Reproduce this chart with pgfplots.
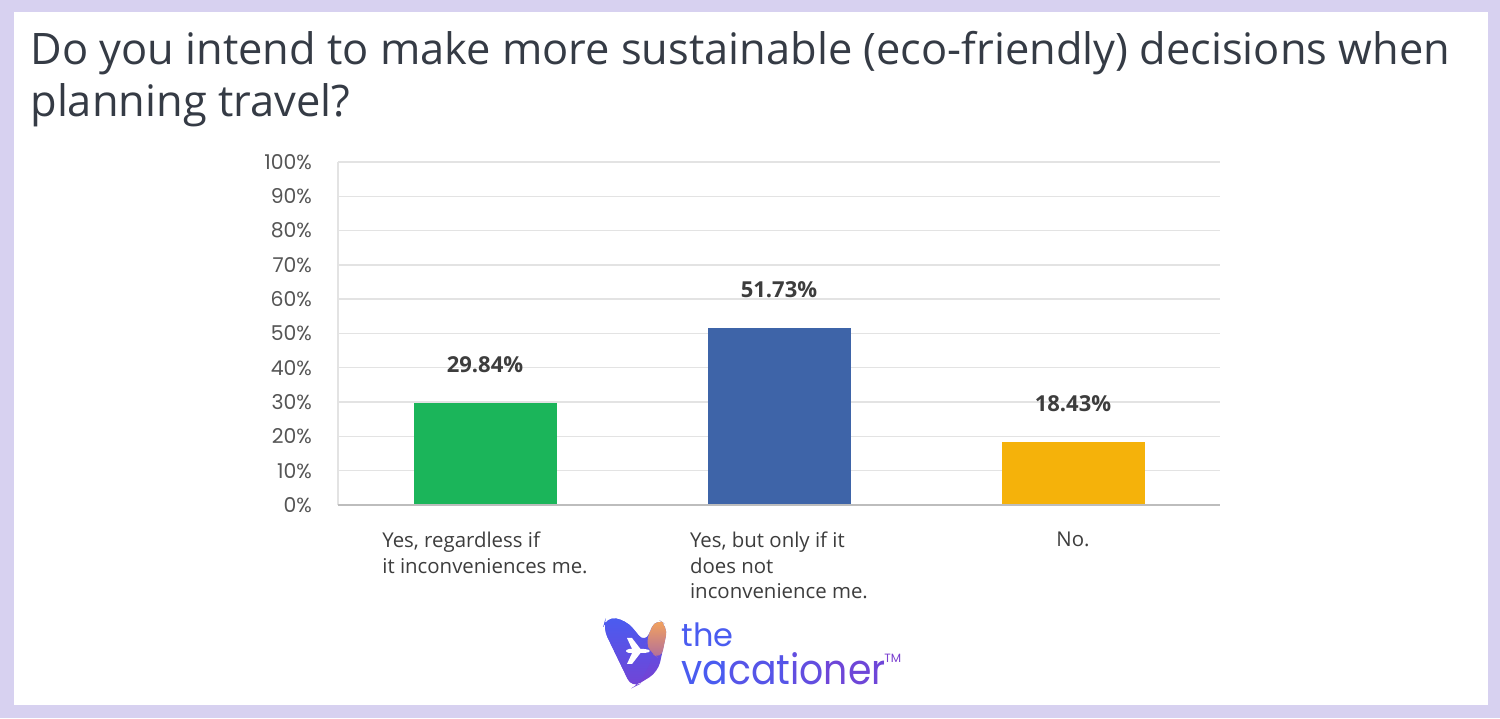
\documentclass[border=0pt]{standalone}
\usepackage{pgfplots}
\pgfplotsset{compat=1.18}
\usepackage{fontspec}
\setmainfont{Open Sans}
\newfontfamily\poppins{Poppins}
\definecolor{frame}{HTML}{D7D1F0}
\definecolor{titlec}{HTML}{353B45}
\definecolor{gridc}{HTML}{E3E3E3}
\definecolor{axisc}{HTML}{BDBDBD}
\definecolor{tickc}{HTML}{555555}
\definecolor{labc}{HTML}{3D3D3D}
\definecolor{barg}{HTML}{1BB55A}
\definecolor{barb}{HTML}{3E64A8}
\definecolor{bary}{HTML}{F5B20A}
\definecolor{logob}{HTML}{4A5CF0}
\definecolor{logop}{HTML}{7A3FD0}
\definecolor{logoo}{HTML}{F8A858}
\begin{document}
\begin{tikzpicture}[x=0.5pt,y=0.5pt]
% frame
\fill[frame] (0,0) rectangle (1500,718);
\fill[white] (14,13) rectangle (1488,706);
% title
\node[anchor=base west,inner sep=0pt,text=titlec,font=\fontsize{21.7}{24}\selectfont] at (30,653) {Do you intend to make more sustainable (eco-friendly) decisions when};
\node[anchor=base west,inner sep=0pt,text=titlec,font=\fontsize{21.7}{24}\selectfont] at (30,601) {planning travel?};
\begin{axis}[
  at={(169pt,106.5pt)}, anchor=south west,
  width=441pt, height=171.5pt, scale only axis,
  xmin=-0.5, xmax=2.5, ymin=0, ymax=100,
  axis line style={draw=none},
  ybar, bar width=71.5pt,
  ytick={0,10,...,100},
  yticklabels={0\%,10\%,20\%,30\%,40\%,50\%,60\%,70\%,80\%,90\%,100\%},
  yticklabel style={font=\poppins\fontsize{10.2}{12}\selectfont, text=tickc, xshift=-9.5pt},
  ymajorgrids, grid style={draw=gridc, line width=0.7pt},
  major tick length=0pt,
  xtick={0,1,2},
  xticklabels={{Yes, regardless if\\it inconveniences me.},{Yes, but only if it\\does not\\inconvenience me.},{No.}},
  xticklabel style={align=left, font=\fontsize{10.2}{12.7}\selectfont, text=labc, yshift=-10pt},
  nodes near coords, point meta=explicit symbolic,
  every node near coord/.append style={font=\bfseries\fontsize{11}{12}\selectfont, text=labc, anchor=base, inner sep=0pt, yshift=15pt},
  clip=false,
]
\draw[gridc, line width=0.8pt] (axis cs:-0.5,0) -- (axis cs:-0.5,100);
\addplot[fill=barg, draw=none, bar shift=0pt] coordinates {(0,29.84) [29.84\%]};
\addplot[fill=barb, draw=none, bar shift=0pt] coordinates {(1,51.73) [51.73\%]};
\addplot[fill=bary, draw=none, bar shift=0pt] coordinates {(2,18.43) [18.43\%]};
\draw[axisc, line width=1pt] (axis cs:-0.5,0) -- (axis cs:2.5,0);
\end{axis}
% logo
\shade[top color=logob, bottom color=logop, rounded corners=5]
  (603,90) -- (606,101) -- (626,98) -- (645,75) -- (656,100) -- (668,92) -- (658,46) -- (632,30) -- cycle;
\shade[top color=logoo, bottom color=logoo!40!logop, rounded corners=5]
  (645,75) -- (656,100) -- (668,92) -- (661,58) -- (650,66) -- cycle;
\shade[top color=logob, bottom color=logop!85!logob, rounded corners=5]
  (603,90) -- (606,101) -- (626,98) -- (654,64) -- (640,34) -- (632,30) -- cycle;
% plane
\fill[white, rounded corners=1.5] (626,69) -- (647,69) -- (651,67) -- (647,65) -- (626,65) -- cycle;
\fill[white] (633,67) -- (627,80) -- (632,80) -- (642,67) -- cycle;
\fill[white] (633,67) -- (627,54) -- (632,54) -- (642,67) -- cycle;
\node[anchor=base west,inner sep=0pt,text=logob,font=\poppins\fontsize{16}{16}\selectfont] at (681,71) {the};
\node[anchor=base west,inner sep=0pt,xscale=0.9,font=\poppins\fontsize{21}{21}\selectfont] at (681,33) {\textcolor{logob}{va}\textcolor{logob!75!logop}{cat}\textcolor{logob!50!logop}{io}\textcolor{logob!25!logop}{ner}};
\node[anchor=base west,inner sep=0pt,text=logop,font=\poppins\fontsize{6}{6}\selectfont] at (884,55) {TM};
\end{tikzpicture}
\end{document}
